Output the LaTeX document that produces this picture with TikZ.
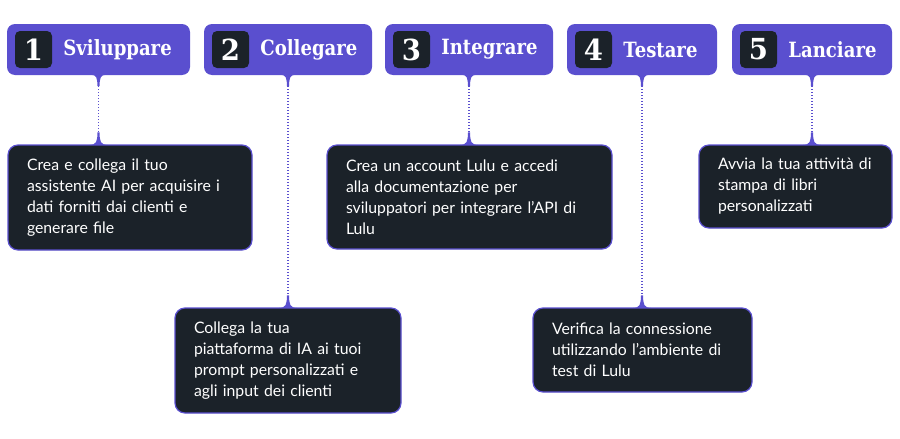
\documentclass[tikz,border=0pt]{standalone}
\usepackage{fontspec}
\setmainfont{Lato}
\newfontfamily\headfont{DejaVu Serif}[FakeStretch=0.86]
\newfontfamily\numfont{DejaVu Serif}[FakeStretch=0.95]
\usetikzlibrary{positioning,calc}
\definecolor{cStep}{HTML}{5A4FCF}
\definecolor{cInk}{HTML}{1B2229}
\begin{document}
\begin{tikzpicture}[x=1pt,y=-1pt,
      head/.style={fill=cStep,rounded corners=8pt,minimum height=51pt,inner sep=0pt},
      num/.style={fill=cInk,rounded corners=5pt,minimum size=37pt,inner sep=0pt,text=white,
                  font=\numfont\bfseries\fontsize{29}{30}\selectfont},
      ttl/.style={inner sep=0pt,text=white,font=\headfont\bfseries\fontsize{21}{24}\selectfont},
      info/.style={draw=cStep,line width=1.2pt,fill=cInk,rounded corners=10pt,inner xsep=17pt,
                   inner ysep=0pt,align=left,text=white,font=\fontsize{15.8}{21}\selectfont},
      link/.style={cStep,line width=1.2pt,dash pattern=on 1.2pt off 1.8pt,shorten <=11pt,shorten >=12pt},
      tabdown/.pic={\fill[cStep] (-7.5,-0.5) .. controls (-2,-0.5) and (-1.2,3) .. (-1,11)
                    -- (1,11) .. controls (1.2,3) and (2,-0.5) .. (7.5,-0.5) -- cycle;},
      tabup/.pic={\fill[cStep] (-9,0.5) .. controls (-2,0.5) and (-1.2,-3) .. (-1,-12)
                  -- (1,-12) .. controls (1.2,-3) and (2,0.5) .. (9,0.5) -- cycle;}]
    \useasboundingbox (0,0) rectangle (900,439);
    % step headers
    \node[head,minimum width=183pt] (h1) at (98.5,49.5) {};
    \node[num,right=8pt of h1.west] (n1) {1};
    \node[ttl,right=11pt of n1] (t1) {Sviluppare};
    \node[head,minimum width=168pt] (h2) at (288,49.5) {};
    \node[num,right=8pt of h2.west] (n2) {2};
    \node[ttl,right=11pt of n2] (t2) {Collegare};
    \node[head,minimum width=168pt] (h3) at (469,49.5) {};
    \node[num,right=8pt of h3.west] (n3) {3};
    \node[ttl,right=11pt of n3] (t3) {Integrare};
    \node[head,minimum width=150pt] (h4) at (642,49.5) {};
    \node[num,right=8pt of h4.west] (n4) {4};
    \node[ttl,right=11pt of n4] (t4) {Testare};
    \node[head,minimum width=160pt] (h5) at (812,49.5) {};
    \node[num,right=8pt of h5.west] (n5) {5};
    \node[ttl,right=11pt of n5] (t5) {Lanciare};
    % detail boxes (left text edge 19px from border)
    \node[info,text width=210pt,minimum height=105pt] (d1) at (130,197.5)
      {\hspace*{2pt}Crea e collega il tuo\\ \hspace*{2pt}assistente AI per acquisire i\\ \hspace*{2pt}dati forniti dai clienti e\\ \hspace*{2pt}generare file};
    \node[info,text width=192pt,minimum height=105pt] (d2) at (288,360.5)
      {\hspace*{2pt}Collega la tua\\ \hspace*{2pt}piattaforma di IA ai tuoi\\ \hspace*{2pt}prompt personalizzati e\\ \hspace*{2pt}agli input dei clienti};
    \node[info,text width=251pt,minimum height=104pt] (d3) at (469.5,197)
      {\hspace*{2pt}Crea un account Lulu e accedi\\ \hspace*{2pt}alla documentazione per\\ \hspace*{2pt}sviluppatori per integrare l\symbol{39}API di\\ \hspace*{2pt}Lulu};
    \node[info,text width=185pt,minimum height=84pt] (d4) at (642.5,350)
      {\hspace*{2pt}Verifica la connessione\\ \hspace*{2pt}utilizzando l\symbol{39}ambiente di\\ \hspace*{2pt}test di Lulu};
    \node[info,text width=159pt,minimum height=83pt] (d5) at (795.5,186.5)
      {\hspace*{2pt}Avvia la tua attività di\\ \hspace*{2pt}stampa di libri\\ \hspace*{2pt}personalizzati};
    % tabs and dotted links
    \pic at (h1.south) {tabdown}; \pic at (h1.south |- d1.north) {tabup};
    \pic at (h2.south) {tabdown}; \pic at (h2.south |- d2.north) {tabup};
    \pic at (h3.south) {tabdown}; \pic at (h3.south |- d3.north) {tabup};
    \pic at (h4.south) {tabdown}; \pic at (h4.south |- d4.north) {tabup};
    \pic at (h5.south) {tabdown}; \pic at (h5.south |- d5.north) {tabup};
    \draw[link] (h1.south) -- (h1.south |- d1.north);
    \draw[link] (h2.south) -- (h2.south |- d2.north);
    \draw[link] (h3.south) -- (h3.south |- d3.north);
    \draw[link] (h4.south) -- (h4.south |- d4.north);
    \draw[link] (h5.south) -- (h5.south |- d5.north);
  \end{tikzpicture}
\end{document}
